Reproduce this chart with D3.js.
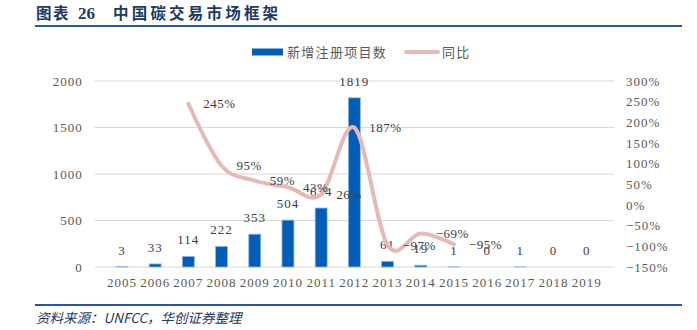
<!DOCTYPE html>
<html><head><meta charset="utf-8">
<script src="https://cdn.jsdelivr.net/npm/d3@7"></script>
<style>
html,body{margin:0;padding:0;background:#fff;}
svg{display:block;}
</style></head>
<body>
<svg id="c" width="697" height="330"></svg>
<script>
const years = ["2005","2006","2007","2008","2009","2010","2011","2012","2013","2014","2015","2016","2017","2018","2019"];
const projects = [3,33,114,222,353,504,634,1819,61,19,1,0,1,0,0];
const yoyYears = ["2007","2008","2009","2010","2011","2012","2013","2014","2015"];
const yoy = [2.45,0.95,0.59,0.43,0.26,1.87,-0.97,-0.69,-0.95];
const leftTicks = [0,500,1000,1500,2000];
const rightTicks = [-1.5,-1.0,-0.5,0,0.5,1.0,1.5,2.0,2.5,3.0];

const svg = d3.select("#c");
const numFont = "'Liberation Serif','DejaVu Serif',serif";
const cjk = "'Noto Sans CJK SC','Noto Sans',sans-serif";

// title
svg.append("text").attr("x",36).attr("y",19).attr("fill","#1F3864")
  .attr("font-family",cjk).attr("font-weight","bold").attr("font-size",15.5)
  .attr("letter-spacing",1.5).text("图表");
svg.append("text").attr("x",78).attr("y",19).attr("fill","#1F3864")
  .attr("font-family",numFont).attr("font-weight","bold").attr("font-size",17).text("26");
svg.append("text").attr("x",113).attr("y",19).attr("fill","#1F3864")
  .attr("font-family",cjk).attr("font-weight","bold").attr("font-size",15.5)
  .attr("letter-spacing",3.2).text("中国碳交易市场框架");
svg.append("rect").attr("x",35).attr("y",25).attr("width",647).attr("height",2).attr("fill","#2E5597");

// scales
const x = d3.scaleBand().domain(years).range([94.7,614]).padding(0.64);
const xc = d => x(d) + x.bandwidth()/2;
const yL = d3.scaleLinear().domain([0,2000]).range([267,81]);
const yR = d3.scaleLinear().domain([-1.5,3]).range([267,81]);

// gridlines
svg.append("g").selectAll("line").data(leftTicks).join("line")
  .attr("x1",94.7).attr("x2",614).attr("y1",d=>yL(d)).attr("y2",d=>yL(d))
  .attr("stroke","#D9D9D9").attr("stroke-width",1);

// left axis
const gL = svg.append("g").attr("transform","translate(94.7,0)")
  .call(d3.axisLeft(yL).tickValues(leftTicks).tickSize(0).tickPadding(12).tickFormat(d3.format("d")));
gL.select(".domain").remove();
gL.selectAll("text").attr("font-family",numFont).attr("font-size",13).attr("fill","#595959").attr("letter-spacing",1);

// right axis
const gR = svg.append("g").attr("transform","translate(614,0)")
  .call(d3.axisRight(yR).tickValues(rightTicks).tickSize(0).tickPadding(12).tickFormat(d3.format(".0%")));
gR.select(".domain").remove();
gR.selectAll("text").attr("font-family",numFont).attr("font-size",13).attr("fill","#595959").attr("letter-spacing",1)
  .text(d => (d<0?"−":"") + Math.round(Math.abs(d)*100) + "%");

// x axis
const gX = svg.append("g").attr("transform","translate(0,267)")
  .call(d3.axisBottom(x).tickSize(0).tickPadding(11));
gX.select(".domain").remove();
gX.selectAll("text").attr("font-family",numFont).attr("font-size",13).attr("fill","#595959").attr("letter-spacing",1);

// bars
svg.append("g").selectAll("rect").data(years).join("rect")
  .attr("x",d=>x(d)).attr("width",x.bandwidth())
  .attr("y",(d,i)=>yL(projects[i])).attr("height",(d,i)=>yL(0)-yL(projects[i]))
  .attr("fill","#005EB8")
  .attr("stroke",(d,i)=>projects[i]>0?"#8FB7E6":"none").attr("stroke-width",0.8);

// bar labels
svg.append("g").selectAll("text").data(years).join("text")
  .attr("x",d=>xc(d)).attr("y",(d,i)=>yL(projects[i])-12)
  .attr("text-anchor","middle").attr("font-family",numFont).attr("font-size",13)
  .attr("fill","#404040").attr("letter-spacing",1).text((d,i)=>projects[i]);

// line
const line = d3.line().x((d,i)=>xc(yoyYears[i])).y(d=>yR(d)).curve(d3.curveCardinal.tension(0));
svg.append("path").datum(yoy).attr("d",line).attr("fill","none")
  .attr("stroke","#E6B9B8").attr("stroke-width",4).attr("stroke-linecap","round");

// line labels
svg.append("g").selectAll("text").data(yoy).join("text")
  .attr("x",(d,i)=>xc(yoyYears[i])+15).attr("y",d=>yR(d)+4.5)
  .attr("font-family",numFont).attr("font-size",13).attr("fill","#404040").attr("letter-spacing",0.5)
  .text(d => (d<0?"−":"") + Math.round(Math.abs(d)*100) + "%");

// legend
svg.append("rect").attr("x",252).attr("y",48.5).attr("width",31).attr("height",7).attr("fill","#005EB8");
svg.append("text").attr("x",287).attr("y",56.5).attr("font-family",cjk).attr("font-size",13)
  .attr("fill","#595959").attr("letter-spacing",1.3).text("新增注册项目数");
svg.append("line").attr("x1",406).attr("x2",438).attr("y1",52).attr("y2",52)
  .attr("stroke","#E6B9B8").attr("stroke-width",4).attr("stroke-linecap","round");
svg.append("text").attr("x",442).attr("y",56.5).attr("font-family",cjk).attr("font-size",13)
  .attr("fill","#595959").attr("letter-spacing",1.3).text("同比");

// footer
svg.append("rect").attr("x",35).attr("y",304).attr("width",647).attr("height",2).attr("fill","#2E5597");
svg.append("text").attr("x",36).attr("y",323).attr("font-family",cjk).attr("font-size",13.5)
  .attr("font-style","italic").attr("fill","#1F3864").text("资料来源：UNFCC，华创证券整理");
</script>
</body></html>
